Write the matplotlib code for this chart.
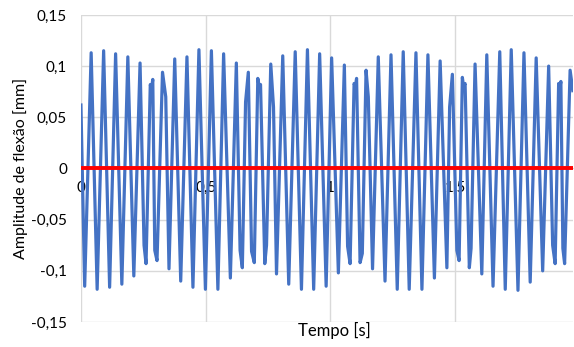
import matplotlib
matplotlib.use("Agg")
import matplotlib.pyplot as plt
from matplotlib.ticker import FuncFormatter

plt.rcParams['font.family'] = ['Lato', 'DejaVu Sans']

# Time [s] of the signal's turning points
tempo = [0.000, 0.015, 0.041, 0.065, 0.091, 0.115, 0.139, 0.164, 0.188, 0.212,
         0.237, 0.253, 0.261, 0.278, 0.283, 0.288, 0.296, 0.305, 0.327, 0.340,
         0.353, 0.376, 0.400, 0.425, 0.449, 0.473, 0.499, 0.523, 0.549, 0.572,
         0.599, 0.623, 0.638, 0.647, 0.660, 0.671, 0.684, 0.695, 0.709, 0.715,
         0.720, 0.737, 0.744, 0.761, 0.772, 0.784, 0.809, 0.833, 0.859, 0.884,
         0.908, 0.933, 0.957, 0.983, 1.005, 1.032, 1.056, 1.069, 1.079, 1.095,
         1.100, 1.105, 1.119, 1.128, 1.143, 1.152, 1.169, 1.192, 1.219, 1.243,
         1.268, 1.292, 1.316, 1.343, 1.367, 1.391, 1.417, 1.440, 1.467, 1.478,
         1.489, 1.507, 1.516, 1.529, 1.534, 1.540, 1.557, 1.564, 1.580, 1.607,
         1.627, 1.652, 1.679, 1.701, 1.725, 1.752, 1.776, 1.801, 1.825, 1.851,
         1.875, 1.891, 1.901, 1.915, 1.920, 1.924, 1.932, 1.939, 1.961, 1.972]

# Bending amplitude [mm]
amplitude = [0.062, -0.115, 0.113, -0.118, 0.115, -0.116, 0.112, -0.113, 0.109, -0.105,
             0.103, -0.075, -0.093, 0.082, 0.078, 0.087, -0.080, -0.090, 0.094, 0.070,
             -0.098, 0.107, -0.110, 0.109, -0.116, 0.116, -0.118, 0.115, -0.118, 0.112,
             -0.107, 0.103, -0.080, -0.097, 0.065, 0.094, -0.081, -0.092, 0.088, 0.080,
             0.082, -0.093, -0.075, 0.102, 0.060, -0.103, 0.110, -0.113, 0.114, -0.118,
             0.116, -0.118, 0.112, -0.115, 0.108, -0.102, 0.101, -0.076, -0.093, 0.083,
             0.080, 0.088, -0.092, -0.083, 0.096, 0.070, -0.098, 0.109, -0.110, 0.111,
             -0.118, 0.114, -0.118, 0.113, -0.118, 0.111, -0.107, 0.105, -0.097, 0.060,
             0.092, -0.080, -0.090, 0.089, 0.080, 0.083, -0.097, -0.078, 0.102, -0.103,
             0.111, -0.115, 0.114, -0.118, 0.116, -0.119, 0.113, -0.111, 0.108, -0.100,
             0.100, -0.075, -0.093, 0.083, 0.079, 0.085, -0.078, -0.093, 0.096, 0.076]

# Zero reference line
ref_tempo = [0.0, 1.972]
ref_valor = [0.0, 0.0]

y_ticks = [-0.15, -0.1, -0.05, 0, 0.05, 0.1, 0.15]
x_ticks = [0, 0.5, 1, 1.5]

fig = plt.figure(figsize=(5.74, 3.47), dpi=100)
ax = fig.add_axes([0.141, 0.072, 0.857, 0.885])

ax.plot(tempo, amplitude, color='#4472C4', lw=2.3, solid_joinstyle='round', zorder=3)
ax.plot(ref_tempo, ref_valor, color='#FF0000', lw=2.8, zorder=4)

ax.set_xlim(0, 1.972)
ax.set_ylim(-0.15, 0.15)
ax.set_yticks(y_ticks)
ax.set_xticks(x_ticks)

def fmt(v, pos):
    s = ('%g' % round(v, 3)).replace('.', ',')
    return '0' if s in ('-0', '0') else s

ax.yaxis.set_major_formatter(FuncFormatter(fmt))
ax.xaxis.set_major_formatter(FuncFormatter(fmt))

ax.grid(True, color='#D9D9D9', lw=1)
ax.set_axisbelow(True)
for s in ['top', 'right', 'left']:
    ax.spines[s].set_visible(False)
ax.spines['bottom'].set_position(('data', 0))
ax.spines['bottom'].set_color('#D9D9D9')
ax.tick_params(axis='both', length=0, labelsize=11, colors='#000000')
ax.tick_params(axis='x', pad=9)
ax.tick_params(axis='y', pad=10)

fig.text(0.582, 0.048, 'Tempo [s]', ha='center', va='center', fontsize=12)
fig.text(0.035, 0.515, 'Amplitude de flexão [mm]', ha='center', va='center',
         rotation=90, fontsize=11.5)

fig.savefig('out.png', dpi=100)
